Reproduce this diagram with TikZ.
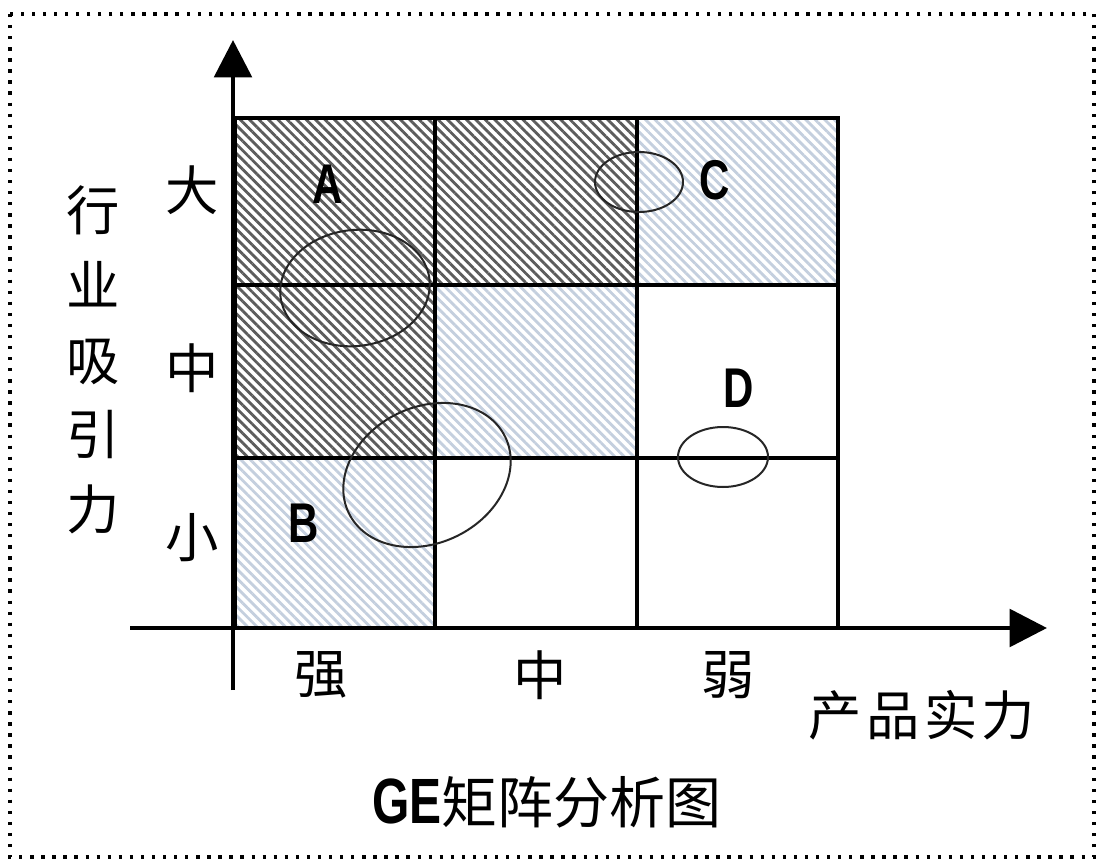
\documentclass[tikz,border=0pt]{standalone}
\usepackage{fontspec}
\newfontfamily\cjk{Noto Sans CJK SC}
\newfontfamily\letterfont[FakeStretch=0.75]{Liberation Sans}
\usetikzlibrary{arrows.meta,patterns.meta}

\definecolor{hatchdark}{gray}{0.36}
\definecolor{hatchlight}{RGB}{196,207,222}

\begin{document}
\begin{tikzpicture}[
    x=0.75pt, y=-0.75pt,
    darkcell/.style={pattern={Lines[angle=-45, distance=5pt, line width=2.1pt]}, pattern color=hatchdark},
    lightcell/.style={pattern={Lines[angle=-45, distance=5pt, line width=2.1pt]}, pattern color=hatchlight},
    gridline/.style={line width=3pt, draw=black},
    axis/.style={line width=3.4pt, -{Triangle[length=28pt, width=28pt]}},
    ring/.style={line width=1.5pt, draw=black!85},
    cjklabel/.style={inner sep=0pt, font=\cjk\fontsize{40}{56}\selectfont},
    letterlabel/.style={inner sep=0pt, font=\letterfont\bfseries\fontsize{42}{42}\selectfont}
]
    % canvas and dotted frame
    \fill[white] (0,0) rectangle (1096,860);
    \draw[line width=2.5pt, dash pattern=on 2.5pt off 5.8pt] (10,14) rectangle (1094,857);

    % shaded cells
    \path[darkcell] (235,118) rectangle (435,285);
    \path[darkcell] (435,118) rectangle (637,285);
    \path[lightcell] (637,118) rectangle (838,285);
    \path[darkcell] (235,285) rectangle (435,458);
    \path[lightcell] (435,285) rectangle (637,458);
    \path[lightcell] (235,458) rectangle (435,628);

    % grid
    \draw[gridline] (235,118) rectangle (838,628);
    \draw[gridline] (435,118) -- (435,628);
    \draw[gridline] (637,118) -- (637,628);
    \draw[gridline] (235,285) -- (838,285);
    \draw[gridline] (235,458) -- (838,458);

    % axes
    \coordinate (ybase) at (233,690);
    \coordinate (ytip) at (233,40);
    \coordinate (xbase) at (130,628);
    \coordinate (xtip) at (1047,628);
    \draw[axis] (ybase) -- (ytip);
    \draw[axis] (xbase) -- (xtip);

    % business ellipses
    \draw[ring, rotate around={7:(355,288)}] (355,288) ellipse [x radius=75, y radius=58];
    \draw[ring, rotate around={26:(427,475)}] (427,475) ellipse [x radius=87, y radius=68];
    \draw[ring] (639,182) ellipse [x radius=44, y radius=30];
    \draw[ring] (723,457) ellipse [x radius=45, y radius=30];

    % unit letters
    \node[letterlabel] (unitA) at (328,184) {A};
    \node[letterlabel] (unitB) at (304,523) {B};
    \node[letterlabel] (unitC) at (715,180) {C};
    \node[letterlabel] (unitD) at (739,388) {D};

    % scale labels
    \node[cjklabel] (big) at (192,190) {大};
    \node[cjklabel] (mid) at (192,368) {中};
    \node[cjklabel] (small) at (192,538) {小};
    \node[cjklabel] (strong) at (321,675) {强};
    \node[cjklabel] (medium) at (540,675) {中};
    \node[cjklabel] (weak) at (728,675) {弱};

    % axis names and title
    \node[cjklabel, align=center] (yname) at (93,360) {行\\业\\吸\\引\\力};
    \node[cjklabel] (xname) at (922,715) {\addfontfeature{LetterSpace=8}产品实力};
    \node[cjklabel, font=\cjk\fontsize{42}{42}\selectfont] (title) at (547,802) {{\letterfont\bfseries\fontsize{48}{48}\selectfont GE}矩阵分析图};
\end{tikzpicture}
\end{document}
